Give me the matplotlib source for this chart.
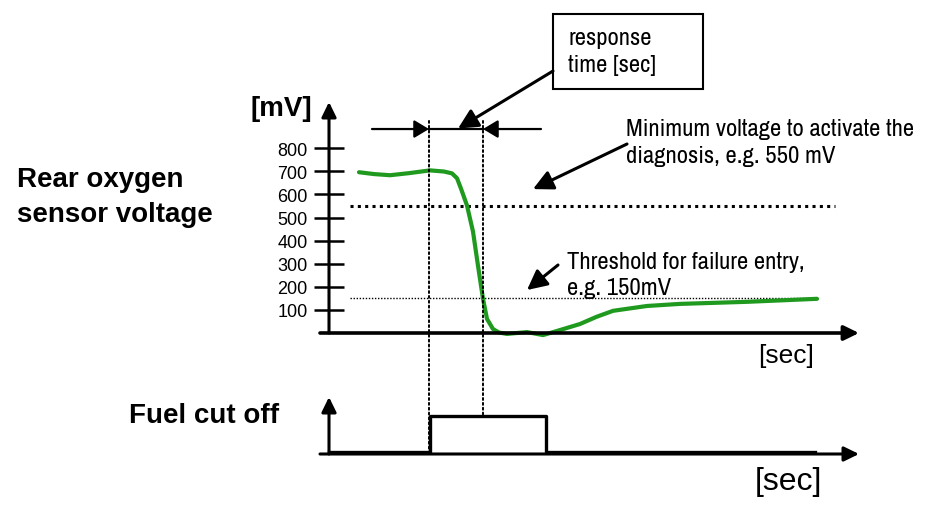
import matplotlib
matplotlib.use("Agg")
import matplotlib.pyplot as plt
from matplotlib import font_manager as fm
from matplotlib.patches import Rectangle, ConnectionPatch

# Rear O2 sensor trace (time in s, voltage in mV)
o2_time = [0.6, 0.9, 1.22, 1.6, 2.02, 2.3, 2.46, 2.56, 2.64, 2.76, 2.88, 2.98,
           3.08, 3.16, 3.28, 3.4, 3.56, 3.96, 4.28, 4.36, 4.7, 5.02, 5.35,
           5.68, 6.36, 7.02, 8.36, 9.76]
o2_mv = [696, 688, 683, 692, 704, 699, 691, 670, 625, 552, 439, 291,
         148, 61, 17, 2, -4, 4, -9, -4, 18, 39, 70,
         96, 117, 126, 135, 148]

# fuel cut-off flag (0 = off, 1 = cut off)
fuel_time = [0, 2.02, 4.34, 9.72]
fuel_state = [0, 1, 0, 0]

mv_ticks = [100, 200, 300, 400, 500, 600, 700, 800]
diag_min_mv = 550
fail_threshold_mv = 150
resp_start, resp_end = 2.0, 3.08

W, H = 931, 510


def px(x, y):
    # pixel position (from top-left) -> figure fraction
    return (x / W, 1 - y / H)


names = {f.name for f in fm.fontManager.ttflist}
if "Archivo Narrow" in names:
    NARROW, nsz = "Archivo Narrow", 17.8
elif "Roboto Condensed" in names:
    NARROW, nsz = "Roboto Condensed", 17
else:
    NARROW, nsz = "Liberation Sans", 14.8

plt.rcParams["font.family"] = ["Liberation Sans", "DejaVu Sans"]

fig = plt.figure(figsize=(W / 100, H / 100), dpi=100)

axis_arrow = dict(arrowstyle="-|>,head_length=0.45,head_width=0.22",
                  color="black", shrinkA=0, shrinkB=0, mutation_scale=20)
pointer = dict(arrowstyle="-|>,head_length=0.6,head_width=0.3",
               color="black", lw=2.2, shrinkA=0, shrinkB=0, mutation_scale=20)

# ---- upper panel: sensor voltage ----
ax1 = fig.add_axes([320 / W, 176 / H, 539 / W, 231 / H])
ax1.set_xlim(-0.18, 10.6)
ax1.set_ylim(0, 1000)
ax1.patch.set_alpha(0)
for s in ax1.spines.values():
    s.set_visible(False)
ax1.spines["left"].set_position(("data", 0))
ax1.set_xticks([])
ax1.set_yticks(mv_ticks)
ax1.tick_params(axis="y", direction="inout", length=21, width=1.8, pad=5,
                labelsize=13)

ax1.annotate("", xy=(10.6, 0), xytext=(-0.18, 0),
             arrowprops=dict(axis_arrow, lw=2.6), annotation_clip=False)
ax1.annotate("", xy=(0, 1000), xytext=(0, 0),
             arrowprops=dict(axis_arrow, lw=2.2), annotation_clip=False)

ax1.plot([0.42, 10.12], [diag_min_mv, diag_min_mv], color="black", lw=2.2,
         ls=(0, (1, 1.4)))
ax1.plot([0.42, 9.76], [fail_threshold_mv, fail_threshold_mv], color="black",
         lw=1.0, ls=(0, (1, 1.2)))
ax1.plot(o2_time, o2_mv, color="#1f9a1f", lw=3, solid_joinstyle="round",
         solid_capstyle="round", clip_on=False)

# response time marker
ax1.plot([resp_start, resp_end], [883, 883], color="black", lw=1.6)
resp_head = dict(axis_arrow, lw=1.6,
                 arrowstyle="-|>,head_length=0.45,head_width=0.27")
ax1.annotate("", xy=(resp_start, 883), xytext=(0.86, 883),
             arrowprops=resp_head, annotation_clip=False)
ax1.annotate("", xy=(resp_end, 883), xytext=(4.24, 883),
             arrowprops=resp_head, annotation_clip=False)

# ---- lower panel: fuel cut off ----
ax2 = fig.add_axes([320 / W, 55 / H, 539 / W, 57 / H])
ax2.set_xlim(-0.18, 10.6)
ax2.set_ylim(-0.056, 1.53)
ax2.axis("off")
ax2.plot(fuel_time, fuel_state, drawstyle="steps-post", color="black",
         lw=2.4, clip_on=False)
ax2.annotate("", xy=(10.6, -0.056), xytext=(-0.18, -0.056),
             arrowprops=dict(axis_arrow, lw=2.2), annotation_clip=False)
ax2.annotate("", xy=(0, 1.53), xytext=(0, -0.056),
             arrowprops=dict(axis_arrow, lw=2.2), annotation_clip=False)

# dotted guides joining both panels
for t, bottom in [(resp_start, 0), (resp_end, 1)]:
    con = ConnectionPatch(xyA=(t, 918), coordsA=ax1.transData,
                          xyB=(t, bottom), coordsB=ax2.transData,
                          color="black", lw=1.4, ls=(0, (1, 1.5)))
    fig.add_artist(con)

# ---- labels ----
bold = dict(weight="bold", size=20, va="baseline", ha="left")
fig.text(*px(17, 187), "Rear oxygen", **bold)
fig.text(*px(17, 222), "sensor voltage", **bold)
fig.text(*px(129, 423), "Fuel cut off", **bold)
fig.text(*px(250, 116), "[mV]", **bold)
fig.text(*px(758, 363), "[sec]", size=19, va="baseline")
fig.text(*px(755, 490), "[sec]", size=23, va="baseline")

note = dict(family=[NARROW, "DejaVu Sans"], size=nsz, va="baseline", ha="left")
fig.add_artist(Rectangle(px(553, 90), 150 / W, 75 / H, transform=fig.transFigure,
                         fill=False, lw=1.5, color="black"))
fig.text(*px(568, 45), "response", **note)
fig.text(*px(568, 72), "time [sec]", **note)
fig.text(*px(626, 136), "Minimum voltage to activate the", **note)
fig.text(*px(626, 163), "diagnosis, e.g. 550 mV", **note)
fig.text(*px(567, 269), "Threshold for failure entry,", **note)
fig.text(*px(567, 295), "e.g. 150mV", **note)

ax1.annotate("", xy=(2.58, 885), xytext=px(553, 72),
             textcoords="figure fraction", arrowprops=pointer,
             annotation_clip=False)
ax1.annotate("", xy=(4.08, 623), xytext=px(627, 145),
             textcoords="figure fraction", arrowprops=pointer,
             annotation_clip=False)
ax1.annotate("", xy=(3.96, 186), xytext=px(558, 266),
             textcoords="figure fraction", arrowprops=pointer,
             annotation_clip=False)

fig.savefig("out.png", dpi=100)
